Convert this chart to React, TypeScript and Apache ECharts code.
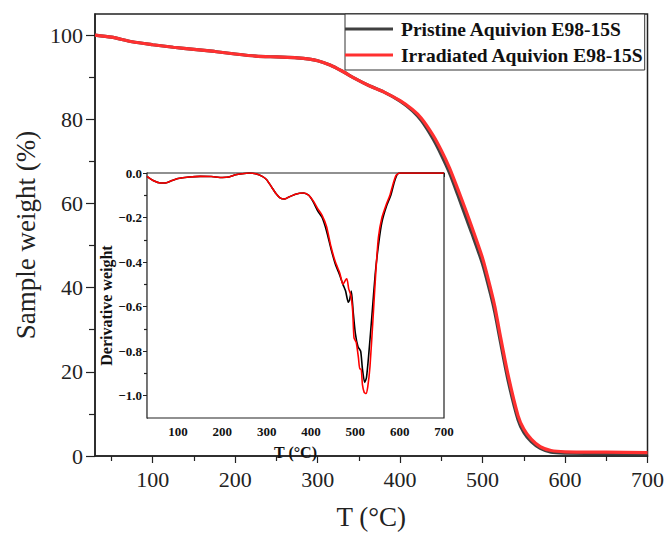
import React, { useEffect, useRef } from "react";
import * as echarts from "echarts";

// TGA (main chart)
const tgaT = [30, 50, 75, 100, 125, 150, 175, 200, 225, 250, 275, 290, 300, 315, 330, 345, 362, 380, 400, 415, 426, 440, 450, 460, 470, 480, 487, 500, 510, 515, 521, 531, 543, 550, 559, 570, 583, 600, 650, 700];
const tgaIrradiated = [100, 99.5, 98.4, 97.7, 97.1, 96.6, 96.1, 95.5, 95.0, 94.8, 94.6, 94.3, 93.9, 92.9, 91.4, 89.7, 88.0, 86.5, 84.4, 82.3, 80.2, 76.2, 72.6, 68.4, 63.4, 58.2, 54.4, 47.0, 39.6, 35.4, 29.1, 19.2, 9.6, 6.4, 4.0, 2.2, 1.3, 1.0, 0.9, 0.8];
const tgaPristine = [100, 99.5, 98.4, 97.7, 97.1, 96.6, 96.1, 95.5, 95.0, 94.8, 94.6, 94.3, 93.9, 92.9, 91.4, 89.7, 88.0, 86.5, 84.3, 82.0, 79.6, 75.3, 71.5, 67.2, 62.0, 56.6, 52.9, 45.6, 38.2, 34.0, 27.8, 17.9, 8.6, 5.6, 3.4, 1.8, 0.9, 0.7, 0.6, 0.5];

// DTG (inset)
const dtgIrradiatedT = [30, 45, 60, 70, 85, 100, 125, 150, 175, 200, 215, 230, 245, 260, 275, 290, 300, 310, 320, 330, 340, 350, 365, 383, 395, 405, 415, 425, 435, 445, 455, 465, 472, 478, 481, 485, 490, 494, 497, 502, 507, 510, 513, 516, 520, 524, 528, 533, 540, 546, 552, 560, 570, 578, 585, 592, 600, 650, 700];
const dtgIrradiated = [-0.015, -0.035, -0.045, -0.045, -0.035, -0.025, -0.018, -0.015, -0.016, -0.02, -0.018, -0.008, -0.003, 0.0, -0.003, -0.015, -0.03, -0.06, -0.09, -0.112, -0.117, -0.108, -0.095, -0.09, -0.1, -0.125, -0.16, -0.19, -0.24, -0.33, -0.4, -0.45, -0.5, -0.48, -0.475, -0.52, -0.55, -0.62, -0.74, -0.76, -0.83, -0.88, -0.88, -0.95, -0.985, -0.99, -0.96, -0.87, -0.65, -0.45, -0.29, -0.2, -0.14, -0.1, -0.05, -0.01, 0.0, 0.0, 0.0];
const dtgPristineT = [30, 45, 60, 70, 85, 100, 125, 150, 175, 200, 215, 230, 245, 260, 275, 290, 300, 310, 320, 330, 340, 350, 365, 383, 395, 405, 415, 425, 435, 445, 455, 465, 472, 478, 484, 487, 491, 495, 500, 506, 512, 516, 521, 525, 530, 537, 545, 553, 560, 570, 580, 588, 595, 602, 650, 700];
const dtgPristine = [-0.015, -0.035, -0.045, -0.045, -0.035, -0.025, -0.018, -0.015, -0.016, -0.02, -0.018, -0.008, -0.003, 0.0, -0.003, -0.015, -0.03, -0.06, -0.09, -0.112, -0.117, -0.108, -0.095, -0.09, -0.1, -0.13, -0.17, -0.2, -0.26, -0.34, -0.41, -0.46, -0.5, -0.53, -0.58, -0.57, -0.53, -0.62, -0.72, -0.78, -0.8, -0.88, -0.94, -0.92, -0.82, -0.65, -0.45, -0.31, -0.22, -0.15, -0.1, -0.04, -0.005, 0.0, 0.0, 0.0];

// Tick values
const mainXTicks = [100, 200, 300, 400, 500, 600, 700];
const mainXMinor = [50, 150, 250, 350, 450, 550, 650];
const mainYTicks = [0, 20, 40, 60, 80, 100];
const mainYMinor = [10, 30, 50, 70, 90];
const insetXTicks = [100, 200, 300, 400, 500, 600, 700];
const insetXMinor = [50, 150, 250, 350, 450, 550, 650];
const insetYTicks = [0, -0.2, -0.4, -0.6, -0.8, -1.0];
const insetYMinor = [-0.1, -0.3, -0.5, -0.7, -0.9];

const FONT = "'Liberation Serif', 'Times New Roman', serif";
const AX = "#222";
const RED = "#ff3030";
const DARK = "#404040";

const pairs = (xs: number[], ys: number[]) => xs.map((x, i) => [x, ys[i]]);

export default function App() {
  const ref = useRef<HTMLDivElement>(null);
  useEffect(() => {
    if (!ref.current) return;
    const chart = echarts.init(ref.current, null, { renderer: "svg" });
    const axisLine = { show: true, lineStyle: { color: AX, width: 1.5 } };
    const minorAxis = (gridIndex: number, values: number[], len: number, pos: string, min: number, max: number) => ({
      gridIndex,
      type: "value",
      position: pos,
      min,
      max,
      axisLine: { show: false },
      axisTick: { show: true, customValues: values, length: len, lineStyle: { color: AX, width: 1.2 } },
      axisLabel: { show: false },
      splitLine: { show: false },
    });
    const option: any = {
      animation: false,
      backgroundColor: "#fff",
      grid: [
        { left: 95, top: 14, right: 18, bottom: 75, show: true, borderColor: AX, borderWidth: 1.5, backgroundColor: "transparent" },
        { left: 147, top: 173, right: 223, bottom: 117, show: true, borderColor: AX, borderWidth: 1.2, backgroundColor: "#fff", z: 3 },
      ],
      legend: {
        show: true,
        orient: "vertical",
        left: 345,
        top: 14,
        padding: [5, 1, 5, 0],
        itemGap: 6,
        itemWidth: 48,
        itemHeight: 3,
        icon: "rect",
        backgroundColor: "#fff",
        borderColor: "#333",
        borderWidth: 1,
        textStyle: { fontFamily: FONT, fontWeight: "bold", fontSize: 19.5, color: "#111", padding: [0, 0, 0, 3] },
        data: [
          { name: "Pristine Aquivion E98-15S", itemStyle: { color: DARK } },
          { name: "Irradiated Aquivion E98-15S", itemStyle: { color: RED } },
        ],
      },
      xAxis: [
        {
          gridIndex: 0,
          type: "value",
          position: "bottom",
          min: 30,
          max: 700,
          axisLine,
          axisTick: { show: true, customValues: mainXTicks, length: 7, lineStyle: { color: AX, width: 1.2 } },
          axisLabel: { customValues: mainXTicks, fontFamily: FONT, fontSize: 22, color: "#222", margin: 12 },
          splitLine: { show: false },
          name: "T (°C)",
          nameLocation: "middle",
          nameGap: 47,
          nameTextStyle: { fontFamily: FONT, fontSize: 27, color: "#222" },
        },
        minorAxis(0, mainXMinor, 5, "bottom", 30, 700),
        {
          gridIndex: 1,
          type: "value",
          position: "bottom",
          min: 30,
          max: 700,
          axisLine: { show: true, lineStyle: { color: AX, width: 1.2 } },
          axisTick: { show: true, customValues: insetXTicks, length: 4, lineStyle: { color: AX } },
          axisLabel: { customValues: insetXTicks, fontFamily: FONT, fontWeight: "bold", fontSize: 13, color: "#111", margin: 7 },
          splitLine: { show: false },
          name: "T (°C)",
          nameLocation: "middle",
          nameGap: 26,
          nameTextStyle: { fontFamily: FONT, fontWeight: "bold", fontSize: 16, color: "#111" },
        },
        minorAxis(1, insetXMinor, 3, "bottom", 30, 700),
      ],
      yAxis: [
        {
          gridIndex: 0,
          type: "value",
          position: "left",
          min: 0,
          max: 105,
          axisLine,
          axisTick: { show: true, customValues: mainYTicks, length: 9, lineStyle: { color: AX, width: 1.2 } },
          axisLabel: { customValues: mainYTicks, fontFamily: FONT, fontSize: 22, color: "#222", margin: 12 },
          splitLine: { show: false },
          name: "Sample weight (%)",
          nameLocation: "middle",
          nameGap: 54,
          nameTextStyle: { fontFamily: FONT, fontSize: 27, color: "#222" },
        },
        minorAxis(0, mainYMinor, 6, "left", 0, 105),
        {
          gridIndex: 1,
          type: "value",
          position: "left",
          min: -1.1,
          max: 0,
          axisLine: { show: true, lineStyle: { color: AX, width: 1.2 } },
          axisTick: { show: true, customValues: insetYTicks, length: 4, lineStyle: { color: AX } },
          axisLabel: {
            customValues: insetYTicks,
            fontFamily: FONT,
            fontWeight: "bold",
            fontSize: 13,
            color: "#111",
            margin: 5,
            formatter: (v: number) => (Math.abs(v) < 1e-9 ? "0.0" : "\u2212" + Math.abs(v).toFixed(1)),
          },
          splitLine: { show: false },
          name: "Derivative weight",
          nameLocation: "middle",
          nameGap: 31,
          nameTextStyle: { fontFamily: FONT, fontWeight: "bold", fontSize: 16, color: "#111", padding: [0, 20, 0, 0] },
        },
        minorAxis(1, insetYMinor, 3, "left", -1.1, 0),
      ],
      series: [
        {
          name: "Pristine Aquivion E98-15S",
          type: "line",
          xAxisIndex: 0,
          yAxisIndex: 0,
          data: pairs(tgaT, tgaPristine),
          showSymbol: false,
          symbol: "none",
          smooth: 0.25,
          lineStyle: { color: DARK, width: 3.2 },
          itemStyle: { color: DARK },
          z: 2,
        },
        {
          name: "Irradiated Aquivion E98-15S",
          type: "line",
          xAxisIndex: 0,
          yAxisIndex: 0,
          data: pairs(tgaT, tgaIrradiated),
          showSymbol: false,
          symbol: "none",
          smooth: 0.25,
          lineStyle: { color: RED, width: 3.2 },
          itemStyle: { color: RED },
          z: 2,
        },
        {
          name: "Pristine Aquivion E98-15S",
          type: "line",
          xAxisIndex: 2,
          yAxisIndex: 2,
          data: pairs(dtgPristineT, dtgPristine),
          showSymbol: false,
          symbol: "none",
          smooth: 0.2,
          lineStyle: { color: "#000", width: 1.6 },
          z: 4,
        },
        {
          name: "Irradiated Aquivion E98-15S",
          type: "line",
          xAxisIndex: 2,
          yAxisIndex: 2,
          data: pairs(dtgIrradiatedT, dtgIrradiated),
          showSymbol: false,
          symbol: "none",
          smooth: 0.2,
          lineStyle: { color: "#ff0000", width: 1.6 },
          z: 4,
        },
      ],
    };
    chart.setOption(option);
    return () => chart.dispose();
  }, []);
  return <div ref={ref} style={{ position: "absolute", left: 0, top: 0, width: 667, height: 535 }} />;
}
